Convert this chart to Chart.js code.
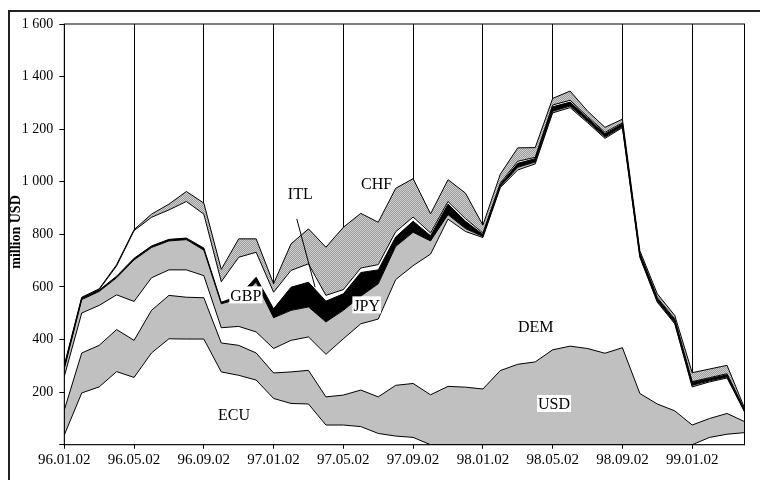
<!DOCTYPE html>
<html>
<head>
<meta charset="utf-8">
<script src="https://cdn.jsdelivr.net/npm/chart.js@4.4.1/dist/chart.umd.min.js"></script>
<style>
  html, body { margin: 0; padding: 0; background: #fff; }
  canvas { display: block; }
</style>
</head>
<body>
<canvas id="fxChart" width="760" height="480"></canvas>
<script>
// monthly observations, 96.01.02 .. 99.04.02
const months = [
  '96.01.02','96.02.02','96.03.02','96.04.02','96.05.02','96.06.02','96.07.02','96.08.02',
  '96.09.02','96.10.02','96.11.02','96.12.02','97.01.02','97.02.02','97.03.02','97.04.02',
  '97.05.02','97.06.02','97.07.02','97.08.02','97.09.02','97.10.02','97.11.02','97.12.02',
  '98.01.02','98.02.02','98.03.02','98.04.02','98.05.02','98.06.02','98.07.02','98.08.02',
  '98.09.02','98.10.02','98.11.02','98.12.02','99.01.02','99.02.02','99.03.02','99.04.02'
];
const xTickLabels = ['96.01.02','96.05.02','96.09.02','97.01.02','97.05.02','97.09.02',
                     '98.01.02','98.05.02','98.09.02','99.01.02'];

// million USD, stacked bottom to top
const ecu = [37,197,220,278,256,349,403,402,402,277,264,246,176,157,155,75,
             75,69,43,33,28,0,0,0,0,0,0,0,0,0,0,0,
             0,0,0,0,0,28,40,46];
const usd = [95,152,158,160,141,162,165,159,157,110,114,103,97,120,128,107,
             114,139,139,193,205,190,222,219,212,282,306,315,361,375,366,348,
             369,195,155,129,75,72,79,42];
const dem = [128,152,152,132,148,124,97,104,84,58,72,80,93,120,127,162,
             214,252,296,402,448,535,636,592,576,696,739,753,901,907,859,817,
             837,518,387,331,145,139,135,37];
const gbp = [30,51,53,65,158,115,110,115,97,91,105,189,117,114,114,123,
             108,105,134,126,127,50,17,11,4,4,10,7,6,6,5,5,
             4,3,4,4,6,4,4,3];
const jpy = [4,4,5,6,6,6,6,6,8,6,10,19,34,88,94,79,
             63,90,53,36,42,20,40,28,8,8,15,13,17,15,13,13,
             10,9,10,10,11,9,8,4];
const itl = [4,2,2,39,105,109,112,139,129,78,148,95,63,64,70,22,
             16,17,20,20,16,10,10,10,5,5,8,5,7,7,5,5,
             4,3,4,4,3,3,4,2];
const chf = [5,3,3,5,4,12,22,38,42,47,70,51,32,101,133,183,
             237,208,161,165,146,73,83,97,30,34,51,37,25,35,21,19,
             14,10,14,14,34,33,32,6];

const serif = "'Liberation Serif', 'Times New Roman', serif";
const ctx = document.getElementById('fxChart').getContext('2d');

// fine diagonal hatch used for CHF
function hatchPattern() {
  const c = document.createElement('canvas');
  c.width = 2; c.height = 2;
  const g = c.getContext('2d');
  g.fillStyle = '#cfcfcf';
  g.fillRect(0, 0, 2, 2);
  g.fillStyle = '#9c9c9c';
  g.fillRect(0, 1, 1, 1);
  g.fillRect(1, 0, 1, 1);
  return ctx.createPattern(c, 'repeat');
}

function band(label, values, fillColor, fillTo) {
  return {
    label: label,
    data: values,
    backgroundColor: fillColor,
    borderColor: '#000',
    borderWidth: 1,
    pointRadius: 0,
    tension: 0,
    fill: fillTo
  };
}

// text labels placed in data coordinates (month index, value)
const seriesNotes = [
  { text: 'ECU', m: 9.73,  v: 113, box: false },
  { text: 'USD', m: 28.08, v: 155, box: true },
  { text: 'DEM', m: 27.03, v: 448, box: false },
  { text: 'GBP', m: 10.41, v: 568, box: true },
  { text: 'JPY', m: 17.34, v: 530, box: true },
  { text: 'ITL', m: 13.53, v: 953, box: false },
  { text: 'CHF', m: 17.91, v: 994, box: false }
];

const decorations = {
  id: 'decorations',
  afterDatasetsDraw(chart) {
    const c = chart.ctx;
    const a = chart.chartArea;
    const xs = chart.scales.x, ys = chart.scales.y;
    c.save();
    // plot frame
    c.strokeStyle = '#000';
    c.lineWidth = 1;
    c.strokeRect(a.left, a.top, a.right - a.left, a.bottom - a.top);

    // ITL pointer
    c.beginPath();
    c.moveTo(xs.getPixelForValue(13.33), ys.getPixelForValue(859));
    c.lineTo(xs.getPixelForValue(14.38), ys.getPixelForValue(599));
    c.stroke();

    c.font = '16px ' + serif;
    c.textAlign = 'center';
    c.textBaseline = 'middle';
    seriesNotes.forEach(n => {
      const px = xs.getPixelForValue(n.m);
      const py = ys.getPixelForValue(n.v);
      if (n.box) {
        const w = c.measureText(n.text).width;
        c.fillStyle = '#fff';
        c.fillRect(px - w / 2 - 1, py - 9, w + 2, 17);
      }
      c.fillStyle = '#000';
      c.fillText(n.text, px, py + 1);
    });

    // y axis title
    c.save();
    c.translate(16, 232);
    c.rotate(-Math.PI / 2);
    c.font = 'bold 14px ' + serif;
    c.fillText('million USD', 0, 0);
    c.restore();

    // outer frame (only left and top edges fall inside the image)
    c.strokeStyle = '#222';
    c.lineWidth = 2;
    c.strokeRect(9, 11, 800, 520);
    c.restore();
  }
};

new Chart(ctx, {
  type: 'line',
  data: {
    labels: months,
    datasets: [
      band('ECU', ecu, '#ffffff', 'origin'),
      band('USD', usd, '#c0c0c0', '-1'),
      band('DEM', dem, '#ffffff', '-1'),
      band('GBP', gbp, '#c0c0c0', '-1'),
      band('JPY', jpy, '#000000', '-1'),
      band('ITL', itl, '#ffffff', '-1'),
      band('CHF', chf, hatchPattern(), '-1')
    ]
  },
  plugins: [decorations],
  options: {
    responsive: false,
    animation: false,
    devicePixelRatio: 1,
    layout: { padding: { top: 24, right: 15.5, left: 0, bottom: 0 } },
    plugins: {
      legend: { display: false },
      tooltip: { enabled: false },
      filler: { drawTime: 'beforeDatasetsDraw' }
    },
    scales: {
      x: {
        afterFit(scale) { scale.height = 35.25; },
        grid: {
          color: c => (c.index % 4 === 0 ? '#000' : 'rgba(0,0,0,0)'),
          lineWidth: 1,
          tickLength: 4,
          drawOnChartArea: true
        },
        border: { display: true, color: '#000' },
        ticks: {
          autoSkip: false,
          maxRotation: 0,
          minRotation: 0,
          padding: 2,
          color: '#000',
          font: { family: serif, size: 15 },
          callback: function (v) {
            const lab = this.getLabelForValue(v);
            return xTickLabels.includes(lab) ? lab : '';
          }
        }
      },
      y: {
        stacked: true,
        min: 0,
        max: 1600,
        afterFit(scale) { scale.width = 64.3; },
        grid: { drawOnChartArea: false, color: '#000', tickLength: 5 },
        border: { display: true, color: '#000' },
        ticks: {
          stepSize: 200,
          padding: 6,
          color: '#000',
          font: { family: serif, size: 14 },
          callback: v => {
            if (v === 0) return '';
            return v >= 1000 ? Math.floor(v / 1000) + ' ' + String(v % 1000).padStart(3, '0') : String(v);
          }
        }
      }
    }
  }
});
</script>
</body>
</html>
